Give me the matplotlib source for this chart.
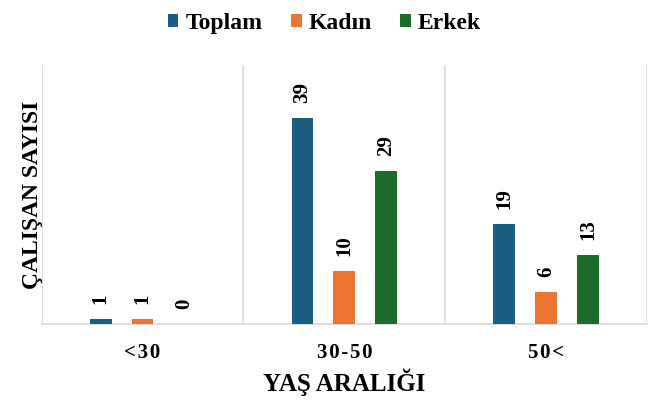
import matplotlib
matplotlib.use("Agg")
import matplotlib.pyplot as plt
import numpy as np

# data
categories = ["<30", "30-50", "50<"]
series_names = ["Toplam", "Kadın", "Erkek"]
toplam = [1, 39, 19]
kadin = [1, 10, 6]
erkek = [0, 29, 13]
colors = ["#1b5e82", "#ec7533", "#1c6b29"]

plt.rcParams["font.family"] = ["Liberation Serif", "DejaVu Serif"]
plt.rcParams["font.weight"] = "bold"

fig = plt.figure(figsize=(6.49, 4.00), dpi=100)
ax = fig.add_axes([0.064, 0.19, 0.933, 0.6475])

x = np.arange(len(categories))
width = 0.108
offset = 0.207

for i, (vals, name, col) in enumerate(zip([toplam, kadin, erkek], series_names, colors)):
    pos = x + (i - 1) * offset
    bars = ax.bar(pos, vals, width, color=col, label=name, zorder=3)
    for b, v in zip(bars, vals):
        ax.text(b.get_x() + b.get_width() / 2, v + 2.8, str(v),
                rotation=90, ha="center", va="bottom",
                fontsize=15, fontweight="bold")

ax.set_xlim(-0.5, 2.5)
ax.set_ylim(0, 49)
ax.set_yticks([])
ax.set_xticks(x)
# spaced-out tick labels, as in the reference
ax.set_xticklabels(["\u200a".join(c) for c in categories], fontsize=15, fontweight="bold")
ax.tick_params(axis="x", length=0, pad=14)

# category separators
for b in [-0.5, 0.5, 1.5, 2.5]:
    ax.axvline(b, color="#d9d9d9", linewidth=1.2, zorder=1)

for s in ["top", "right", "left"]:
    ax.spines[s].set_visible(False)
ax.spines["bottom"].set_color("#d9d9d9")
ax.spines["bottom"].set_linewidth(1.2)

ax.set_xlabel("YAŞ ARALIĞI", fontsize=18, fontweight="bold", labelpad=4)
ax.set_ylabel("ÇALIŞAN SAYISI", fontsize=17, fontweight="bold", labelpad=-1)

fig.legend(loc="upper center", bbox_to_anchor=(0.5, 1.02), ncol=3,
           frameon=False, handlelength=0.45, handleheight=0.45,
           columnspacing=1.2, handletextpad=0.3, prop={"weight": "bold", "size": 17})

fig.savefig("out.png", dpi=100)
